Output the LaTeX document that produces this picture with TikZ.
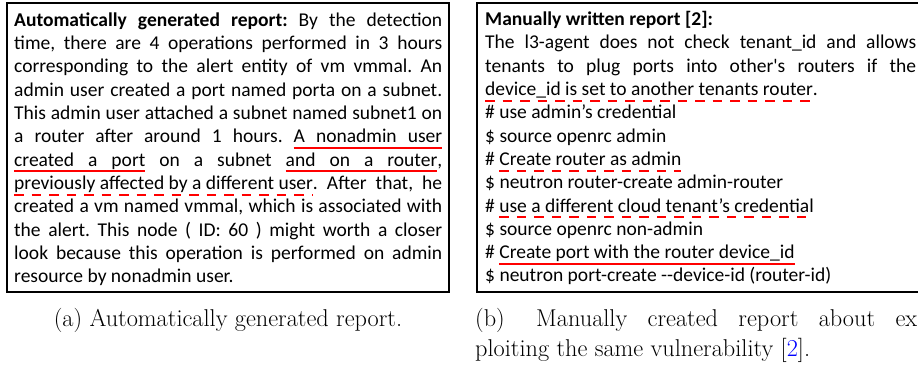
\documentclass[tikz,border=0pt]{standalone}
\usepackage{fontspec}
\usepackage{xcolor}
\newfontfamily\bodyfont{Carlito}

\makeatletter
% solid red underline, word by word so that spaces can stretch
\def\rl@rule{\color{red}\leaders\hrule height -4.3bp depth 6.3bp}
\def\rl@word#1{\setbox\z@\hbox{#1}{\rl@rule\hskip\wd\z@}\hskip-\wd\z@\box\z@}
\def\rl@space{{\rl@rule\hskip\fontdimen2\font plus\fontdimen3\font minus\fontdimen4\font}}
\def\rl@loop#1 #2\rl@end{\rl@word{#1}%
  \if\relax\detokenize{#2}\relax\else\rl@space\rl@loop#2\rl@end\fi}
\newcommand\redline[1]{\rl@loop#1 \rl@end}
% dashed red underline under a whole phrase: 9.5bp dashes, 8bp gaps
\newdimen\dl@rest
\def\dl@loop{\ifdim\dl@rest<17.5bp\relax\else
  \vrule width 9.5bp height -4.3bp depth 6.3bp\kern8bp\advance\dl@rest-17.5bp
  \expandafter\dl@loop\fi}
\def\dl@last{\advance\dl@rest-8bp
  \ifdim\dl@rest>0.5bp\relax\vrule width\dl@rest height -4.3bp depth 6.3bp
  \else\kern\dl@rest\fi}
\newcommand\reddash[1]{\setbox\z@\hbox{#1}%
  \dl@rest=\wd\z@\advance\dl@rest8bp
  {\color{red}\dl@loop\dl@last}\hskip-\wd\z@\box\z@}
\makeatother
% a justified line and a plain line of a report
\newcommand\jline[1]{\makebox[\linewidth][s]{#1}\par}
\newcommand\pline[1]{\mbox{#1}\par}

\tikzset{
  reportbox/.style={draw=black, line width=1.1bp},
  reporttext/.style={anchor=base west, inner sep=0pt,
    font=\bodyfont\fontsize{19.6}{23.4}\selectfont\frenchspacing},
  captext/.style={inner sep=0pt, font=\fontsize{24.4}{30}\selectfont},
}

\begin{document}
\begin{tikzpicture}[x=1bp, y=-1bp]
\useasboundingbox (0,0) rectangle (918,364);

% report frames
\draw[reportbox] (7,3) rectangle (449,292);
\draw[reportbox] (477,3) rectangle (925,292);

% automatically generated report
\node[reporttext] (autotext) at (14,26.3) {\parbox[t]{428bp}{%
\setlength\parindent{0pt}\setlength\lineskiplimit{-100bp}%
\jline{\textbf{Automatically generated report:} By the detection}
\jline{time, there are 4 operations performed in 3 hours}
\jline{corresponding to the alert entity of vm vmmal. An}
\jline{admin user created a port named porta on a subnet.}
\jline{This admin user attached a subnet named subnet1 on}
\jline{a router after around 1 hours. \redline{A nonadmin user}}
\jline{\redline{created a port} on a subnet \redline{and on a router},}
\jline{\reddash{previously affected by a different user}. After that, he}
\jline{created a vm named vmmal, which is associated with}
\jline{the alert. This node ( ID: 60 ) might worth a closer}
\jline{look because this operation is performed on admin}
\pline{resource by nonadmin user.}}};

% manually written report
\node[reporttext] (manualtext) at (485,25.5) {\parbox[t]{431bp}{%
\setlength\parindent{0pt}\setlength\lineskiplimit{-100bp}%
\pline{\textbf{Manually written report [2]:}}
\jline{The l3-agent does not check tenant\_id and allows}
\jline{tenants to plug ports into other\textquotesingle s routers if the}
\pline{\reddash{device\_id is set to another tenants router}.}
\pline{\# use admin’s credential}
\pline{\$ source openrc admin}
\pline{\# \reddash{Create router as admin}}
\pline{\$ neutron router-create admin-router}
\pline{\# \reddash{use a different cloud tenant’s credential}}
\pline{\$ source openrc non-admin}
\pline{\# \redline{Create port with the router device\_id}}
\pline{\$ neutron port-create -{}-device-id (router-id)}}};

% sub-captions
\node[captext, anchor=base] (capa) at (228,326.7) {(a) Automatically generated report.};
\node[captext, anchor=base west] (capb1) at (475,326.7)
  {\makebox[442bp][s]{(b)\hspace{11bp} Manually created report about ex}};
\node[captext, anchor=base west] (capb2) at (475,356.7)
  {ploiting the same vulnerability [\textcolor{blue}{2}].};
\end{tikzpicture}
\end{document}
